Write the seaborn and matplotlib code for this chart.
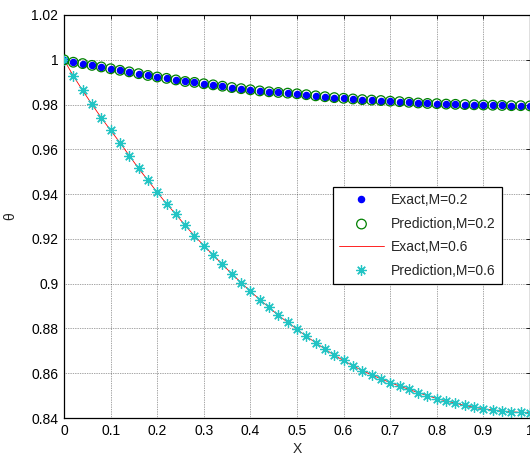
import numpy as np
import pandas as pd
import matplotlib
matplotlib.use("Agg")
import matplotlib.pyplot as plt
import seaborn as sns

# Dimensionless position along the fin
x_vals = [round(0.02 * i, 2) for i in range(51)]

# Temperature profile, M = 0.2
theta_m02 = [
    1.0000, 0.9989, 0.9983, 0.9975, 0.9968, 0.9960, 0.9953, 0.9946, 0.9938, 0.9930,
    0.9923, 0.9917, 0.9910, 0.9903, 0.9899, 0.9893, 0.9888, 0.9882, 0.9876, 0.9871,
    0.9866, 0.9861, 0.9857, 0.9854, 0.9851, 0.9848, 0.9844, 0.9839, 0.9835, 0.9831,
    0.9828, 0.9825, 0.9822, 0.9820, 0.9818, 0.9815, 0.9813, 0.9810, 0.9807, 0.9805,
    0.9804, 0.9802, 0.9801, 0.9800, 0.9799, 0.9798, 0.9797, 0.9796, 0.9795, 0.9795,
    0.9794,
]

# Temperature profile, M = 0.6
theta_m06 = [
    1.0000, 0.9928, 0.9863, 0.9801, 0.9741, 0.9685, 0.9630, 0.9572, 0.9515, 0.9462,
    0.9408, 0.9357, 0.9310, 0.9260, 0.9214, 0.9170, 0.9128, 0.9086, 0.9044, 0.9005,
    0.8966, 0.8929, 0.8894, 0.8858, 0.8828, 0.8796, 0.8765, 0.8736, 0.8708, 0.8680,
    0.8657, 0.8633, 0.8612, 0.8593, 0.8575, 0.8558, 0.8543, 0.8528, 0.8513, 0.8500,
    0.8487, 0.8476, 0.8466, 0.8456, 0.8448, 0.8441, 0.8436, 0.8431, 0.8428, 0.8425,
    0.8424,
]

x_ticks = [0, 0.1, 0.2, 0.3, 0.4, 0.5, 0.6, 0.7, 0.8, 0.9, 1]
x_tick_labels = ["0", "0.1", "0.2", "0.3", "0.4", "0.5", "0.6", "0.7", "0.8", "0.9", "1"]
y_ticks = [0.84, 0.86, 0.88, 0.9, 0.92, 0.94, 0.96, 0.98, 1.0, 1.02]
y_tick_labels = ["0.84", "0.86", "0.88", "0.9", "0.92", "0.94", "0.96", "0.98", "1", "1.02"]

df = pd.DataFrame({"X": x_vals, "m02": theta_m02, "m06": theta_m06})

sns.set_style("white")
plt.rcParams["font.family"] = ["Liberation Sans", "DejaVu Sans"]
plt.rcParams["font.size"] = 10

fig = plt.figure(figsize=(5.30, 4.62), dpi=100)
ax = fig.add_axes([64 / 530, 44 / 462, 466 / 530, 403 / 462])

# M = 0.2: exact (filled blue dots) and prediction (open green circles)
ax.plot(df["X"], df["m02"], linestyle="none", marker="o", markersize=4.4,
        markerfacecolor="#0000ff", markeredgecolor="#0000ff",
        label="Exact,M=0.2", zorder=4)
sns.scatterplot(data=df, x="X", y="m02", ax=ax, marker="o", s=48,
                facecolor="none", edgecolor="#008000", linewidth=0.9,
                label="Prediction,M=0.2", zorder=5)

# M = 0.6: exact (red line) and prediction (cyan asterisks)
sns.lineplot(data=df, x="X", y="m06", ax=ax, color="#ff0000", linewidth=0.6,
             label="Exact,M=0.6", zorder=3)
ax.plot(df["X"], df["m06"], linestyle="none", marker=(8, 2, 0), markersize=7.5,
        markeredgecolor="#22c4c4", markerfacecolor="#22c4c4", markeredgewidth=0.9,
        label="Prediction,M=0.6", zorder=4)

ax.set_xlim(0, 1)
ax.set_ylim(0.84, 1.02)
ax.set_xticks(x_ticks)
ax.set_xticklabels(x_tick_labels)
ax.set_yticks(y_ticks)
ax.set_yticklabels(y_tick_labels)
ax.set_xlabel("X", fontsize=10, labelpad=3)
ax.set_ylabel("θ", fontsize=10, labelpad=10)

ax.grid(True, color="#000000", linestyle=(0, (1, 1.5)), linewidth=0.5, alpha=0.7)
ax.tick_params(direction="in", length=3, width=0.6, top=True, right=True,
               labelsize=10, pad=4, colors="black")
for sp in ax.spines.values():
    sp.set_visible(True)
    sp.set_color("black")
    sp.set_linewidth(0.9)

# Legend order: Exact 0.2, Prediction 0.2, Exact 0.6, Prediction 0.6
handles, labels = ax.get_legend_handles_labels()
order = ["Exact,M=0.2", "Prediction,M=0.2", "Exact,M=0.6", "Prediction,M=0.6"]
hmap = dict(zip(labels, handles))
leg = ax.legend([hmap[k] for k in order], order, loc="upper left",
                bbox_to_anchor=((333 - 64) / 466, (418 - 187) / 403),
                frameon=True, fancybox=False, fontsize=10, handlelength=3.2,
                borderpad=0.45, labelspacing=0.68, handletextpad=0.55,
                borderaxespad=0, edgecolor="black", framealpha=1)
leg.get_frame().set_linewidth(0.9)

fig.savefig("out.png", dpi=100)
